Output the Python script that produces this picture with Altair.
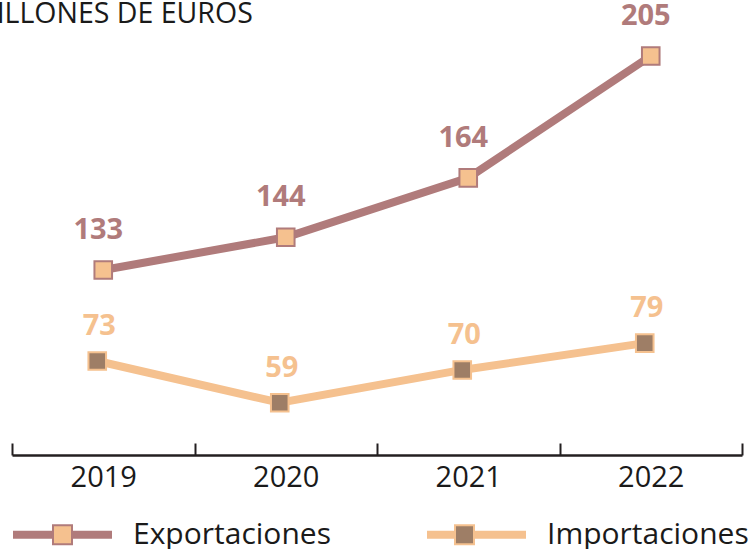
import altair as alt
import pandas as pd

years = ["2019", "2020", "2021", "2022"]
exportaciones = [133, 144, 164, 205]
importaciones = [73, 59, 70, 79]
series = ["Exportaciones", "Importaciones"]

MAUVE = "#b07b7b"
ORANGE = "#f5c18f"
BROWN = "#9e7e66"
FONT = "Open Sans"

df_exp = pd.DataFrame({"anio": years, "valor": exportaciones, "serie": series[0], "orden": 0})
df_imp = pd.DataFrame({"anio": years, "valor": importaciones, "serie": series[1], "orden": 1})

x_enc = alt.X(
    "anio:O",
    bandPosition=0.5,
    scale=alt.Scale(type="band", domain=years, paddingInner=0, paddingOuter=0),
    axis=alt.Axis(
        title=None, labelAngle=0, labelFont=FONT, labelFontSize=29, labelColor="#1a1a1a",
        domainColor="#231f20", domainWidth=2.5, tickColor="#231f20", tickWidth=2,
        tickSize=alt.ExprRef("-12"), tickBand="extent", labelPadding=20, grid=False,
        labelBaseline="top",
    ),
)

stroke_enc = alt.Stroke(
    "serie:N",
    scale=alt.Scale(domain=series, range=[MAUVE, ORANGE]),
    legend=alt.Legend(
        title=None, orient="none", legendX=-3, legendY=441, direction="horizontal",
        symbolType="M-1,0H1", symbolSize=9801, symbolStrokeWidth=8,
        labelFont=FONT, labelFontSize=30, labelColor="#1a1a1a", labelOffset=17,
        labelLimit=400, columnPadding=80, padding=0, zindex=0,
    ),
)

fill_enc = alt.Fill(
    "orden:N",
    scale=alt.Scale(domain=[0, 1], range=[ORANGE, BROWN]),
    legend=alt.Legend(
        title=None, orient="none", legendX=-3, legendY=441, direction="horizontal",
        symbolType="M-0.181,-0.181H0.181V0.181H-0.181Z", symbolSize=11025, symbolStrokeWidth=2,
        symbolStrokeColor=alt.ExprRef(f"datum.value == 0 ? '{MAUVE}' : '{ORANGE}'"),
        labelExpr=f"datum.value == 0 ? '{series[0]}' : '{series[1]}'",
        labelFont=FONT, labelFontSize=30, labelOpacity=0, labelOffset=17,
        labelLimit=400, columnPadding=80, padding=0, zindex=1,
    ),
)


def group(df, line_color, domain, xoff, dx, dy):
    base = alt.Chart(df).encode(
        x=x_enc,
        y=alt.Y("valor:Q", scale=alt.Scale(domain=domain, zero=False, nice=False), axis=None),
    )
    line = base.mark_line(strokeWidth=8, xOffset=xoff).encode(stroke=stroke_enc)
    pts = base.mark_point(shape="square", size=310, filled=True, opacity=1,
                          strokeWidth=2, stroke=line_color, xOffset=xoff).encode(fill=fill_enc)
    txt = base.mark_text(font=FONT, fontSize=29, fontWeight="bold", color=line_color,
                         baseline="alphabetic", xOffset=xoff, dx=dx, dy=dy).encode(text="valor:Q")
    return alt.layer(line, pts, txt)


g_exp = group(df_exp, MAUVE, [70.75, 210.38], 0, -5, -31)
g_imp = group(df_imp, ORANGE, [41.46, 180.7], -6, 2, -26)

chart = (
    alt.layer(g_exp, g_imp)
    .resolve_scale(y="independent")
    .properties(
        width=730, height=415,
        title=alt.TitleParams("MILLONES DE EUROS", anchor="start", frame="group", font=FONT,
                              fontSize=28.5, fontWeight="normal", color="#1a1a1a", dx=-41,
                              offset=0, dy=27),
        autosize=alt.AutoSizeParams(type="none"),
        padding={"left": 12, "top": 40, "right": 12, "bottom": 94},
        background="white",
    )
    .configure_view(stroke="transparent", strokeWidth=0)
)

chart.save("out.html", embed_options={"renderer": "svg", "actions": False})
